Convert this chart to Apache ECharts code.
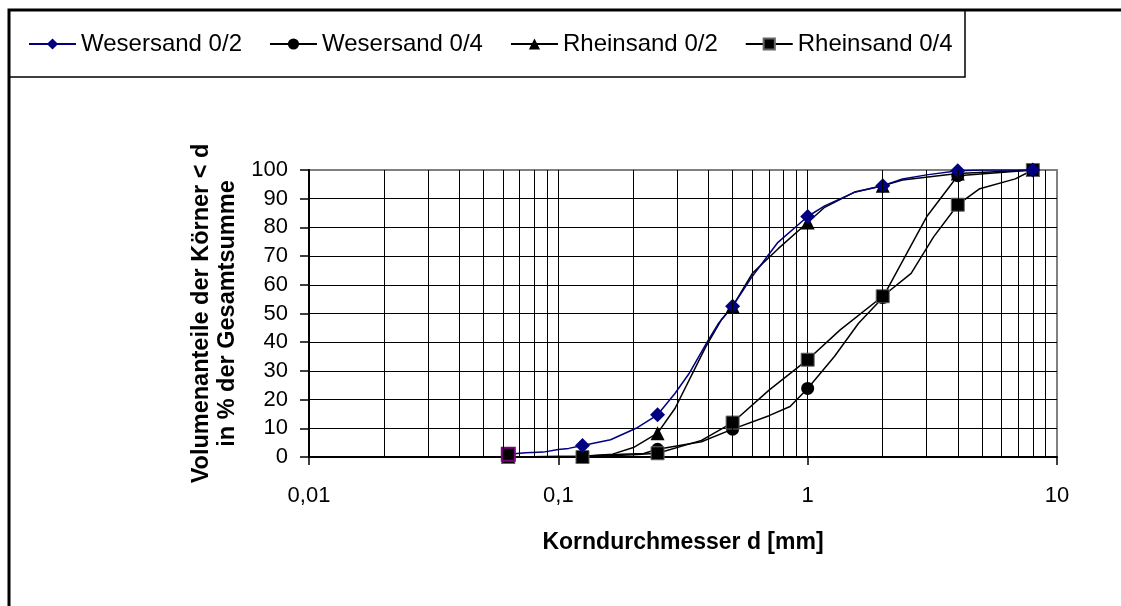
<!DOCTYPE html>
<html>
<head>
<meta charset="utf-8">
<script src="https://cdn.jsdelivr.net/npm/echarts@6/dist/echarts.min.js"></script>
<style>
html,body{margin:0;padding:0;background:#fff;}
#chart{width:1121px;height:606px;}
</style>
</head>
<body>
<div id="chart"></div>
<script>
// Sieve sizes (points that carry a marker)
const sieves = [0.063, 0.125, 0.25, 0.5, 1, 2, 4, 8];

// Minor vertical grid positions on the log axis
const minorTicks = [0.02,0.03,0.04,0.05,0.06,0.07,0.08,0.09,
                    0.2,0.3,0.4,0.5,0.6,0.7,0.8,0.9,
                    2,3,4,5,6,7,8,9];

// Series names
const seriesNames = ['Wesersand 0/2', 'Wesersand 0/4', 'Rheinsand 0/2', 'Rheinsand 0/4'];

// Wesersand 0/2
const weser02X = [0.063, 0.074, 0.087, 0.1, 0.11, 0.125, 0.162, 0.205, 0.25, 0.294, 0.334, 0.395, 0.44, 0.5, 0.6, 0.76, 1, 1.17, 1.54, 2, 2.4, 3, 4, 5, 6.5, 8];
const weser02Y = [1, 1.5, 1.7, 2.6, 3, 4, 6, 10, 14.7, 22.2, 29, 40, 46.7, 52.5, 63, 74.8, 83.8, 87.5, 92.2, 94.5, 96.9, 98.3, 99.7, 100, 100, 100];

// Wesersand 0/4
const weser04X = [0.063, 0.125, 0.18, 0.22, 0.25, 0.375, 0.5, 0.7, 0.85, 1, 1.28, 1.6, 2, 2.5, 3, 4, 8];
const weser04Y = [0, 0.3, 1, 1.2, 2.7, 5.3, 9.7, 14.4, 17.6, 23.9, 35, 46.6, 55.5, 71, 83.7, 98, 100];

// Rheinsand 0/2
const rhein02X = [0.063, 0.125, 0.165, 0.2, 0.25, 0.294, 0.39, 0.45, 0.5, 0.6, 0.76, 1, 1.17, 1.54, 2, 2.4, 4, 8];
const rhein02Y = [0, 0.3, 1, 3.3, 8.3, 17, 38.4, 47.7, 52.5, 64, 72.5, 81.7, 87, 92.3, 94.5, 96.5, 98.8, 100];

// Rheinsand 0/4
const rhein04X = [0.063, 0.125, 0.2, 0.25, 0.375, 0.5, 0.7, 1, 1.35, 2, 2.6, 3.2, 4, 4.9, 6.8, 8];
const rhein04Y = [0, 0, 0.8, 1.3, 5.8, 12, 23.3, 33.9, 44.3, 56, 64, 76.7, 87.9, 93.5, 96.9, 100];

function build(xs, ys) {
  return xs.map(function (x, i) {
    const item = { value: [x, ys[i]] };
    if (sieves.indexOf(x) < 0) item.symbol = 'none';
    return item;
  });
}

const weser02Data = build(weser02X, weser02Y);
// first point drawn as a purple-edged square
weser02Data[0].symbol = 'rect';
weser02Data[0].symbolSize = 13;
weser02Data[0].itemStyle = { color: '#000', borderColor: '#800080', borderWidth: 2 };

const FONT = "'Liberation Sans', Arial, sans-serif";

const chart = echarts.init(document.getElementById('chart'), null, { renderer: 'canvas' });

chart.setOption({
  animation: false,
  backgroundColor: '#fff',
  graphic: [
    { type: 'rect', shape: { x: 9, y: 10, width: 1200, height: 700 },
      style: { fill: 'none', stroke: '#000', lineWidth: 3 }, z: -1, silent: true },
    { type: 'rect', shape: { x: 9, y: 10, width: 956, height: 67 },
      style: { fill: 'none', stroke: '#000', lineWidth: 1.5 }, z: -1, silent: true }
  ],
  legend: {
    left: 28,
    top: 32,
    padding: 0,
    itemWidth: 47,
    itemHeight: 14,
    itemGap: 27,
    data: seriesNames,
    textStyle: { fontFamily: FONT, fontSize: 24, color: '#000' }
  },
  grid: {
    left: 309, right: 64, top: 170, bottom: 149,
    show: true, borderColor: '#808080', borderWidth: 2, backgroundColor: 'transparent'
  },
  xAxis: {
    type: 'log',
    logBase: 10,
    min: 0.01,
    max: 10,
    name: 'Korndurchmesser d [mm]',
    nameLocation: 'middle',
    nameGap: 74,
    nameTextStyle: { fontFamily: FONT, fontSize: 23, fontWeight: 'bold', color: '#000' },
    axisLine: { show: true, onZero: false, lineStyle: { color: '#000', width: 2 } },
    axisTick: { show: true, length: 8, lineStyle: { color: '#000', width: 1.5 } },
    axisLabel: {
      margin: 28, fontFamily: FONT, fontSize: 22, color: '#000',
      formatter: function (v) { return String(+v.toPrecision(6)).replace('.', ','); }
    },
    splitLine: { show: true, showMaxLine: false, lineStyle: { color: '#000', width: 1 } },
    minorTick: { show: false },
    minorSplitLine: { show: false }
  },
  yAxis: {
    type: 'value',
    min: 0,
    max: 100,
    interval: 10,
    name: 'Volumenanteile der Körner < d\nin % der Gesamtsumme',
    nameLocation: 'middle',
    nameRotate: 90,
    nameGap: 68,
    nameTextStyle: { fontFamily: FONT, fontSize: 23.5, fontWeight: 'bold', color: '#000', lineHeight: 26, align: 'center' },
    axisLine: { show: true, lineStyle: { color: '#000', width: 2 } },
    axisTick: { show: true, length: 9, lineStyle: { color: '#000', width: 1.5 } },
    axisLabel: { margin: 21, fontFamily: FONT, fontSize: 22, color: '#000' },
    splitLine: { show: true, showMaxLine: false, lineStyle: { color: '#000', width: 1 } }
  },
  series: [
    {
      name: seriesNames[2], type: 'line', data: build(rhein02X, rhein02Y),
      symbol: 'triangle', symbolSize: 14, showAllSymbol: true,
      lineStyle: { color: '#000', width: 1.5 }, itemStyle: { color: '#000' },
      markLine: {
        silent: true, symbol: ['none', 'none'], label: { show: false },
        lineStyle: { color: '#000', width: 1, type: 'solid' },
        emphasis: { disabled: true },
        data: minorTicks.map(function (v) { return { xAxis: v }; })
      }
    },
    {
      name: seriesNames[1], type: 'line', data: build(weser04X, weser04Y),
      symbol: 'circle', symbolSize: 13, showAllSymbol: true,
      lineStyle: { color: '#000', width: 1.5 }, itemStyle: { color: '#000' }
    },
    {
      name: seriesNames[3], type: 'line', data: build(rhein04X, rhein04Y),
      symbol: 'rect', symbolSize: 13, showAllSymbol: true,
      lineStyle: { color: '#000', width: 1.5 },
      itemStyle: { color: '#000', borderColor: '#666', borderWidth: 1 }
    },
    {
      name: seriesNames[0], type: 'line', data: weser02Data,
      symbol: 'diamond', symbolSize: 15, showAllSymbol: true,
      lineStyle: { color: '#000080', width: 1.5 }, itemStyle: { color: '#000080' }
    }
  ]
});
</script>
</body>
</html>
